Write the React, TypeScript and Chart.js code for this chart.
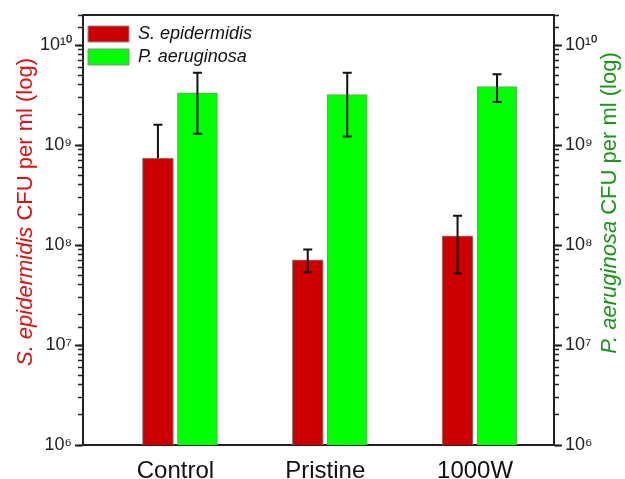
import React, { useEffect, useRef } from 'react';
import { Chart, registerables } from 'chart.js';

Chart.register(...registerables);

// ---- data ----
const categories = ['Control', 'Pristine', '1000W'];
const categoryPositions = [1, 2, 3];
const seriesNames = ['S. epidermidis', 'P. aeruginosa'];
const sEpidermidis = [7.4e8, 7.1e7, 1.24e8];
const sEpidermidisUpper = [1.6e9, 9.0e7, 1.96e8];
const sEpidermidisLower = [7.4e8, 5.35e7, 5.2e7];
const pAeruginosa = [3.34e9, 3.2e9, 3.84e9];
const pAeruginosaUpper = [5.3e9, 5.3e9, 5.1e9];
const pAeruginosaLower = [1.3e9, 1.22e9, 2.7e9];
const decadeTicks = [1e6, 1e7, 1e8, 1e9, 1e10];
const yMin = 1e6;
const yMax = 2e10;
const xMin = 0.383;
const xMax = 3.527;

const FONT = '"Liberation Sans", Arial, Helvetica, sans-serif';
const AXIS_COLOR = '#222';
const RED = '#CC0000';
const GREEN = '#00FF00';

const SUP = ['⁰', '¹', '²', '³', '⁴', '⁵', '⁶', '⁷', '⁸', '⁹'];
function powerLabel(v: number): string {
  const lg = Math.log10(v);
  const e = Math.round(lg);
  if (Math.abs(lg - e) > 1e-9) return '';
  return '10' + String(e).split('').map((d) => SUP[+d]).join('');
}

const errorSets = [
  { upper: sEpidermidisUpper, lower: sEpidermidisLower },
  { upper: pAeruginosaUpper, lower: pAeruginosaLower },
];

const errorBarPlugin = {
  id: 'errorBars',
  afterDatasetsDraw(chart: any) {
    const ctx = chart.ctx;
    ctx.save();
    ctx.strokeStyle = '#111';
    ctx.lineWidth = 2;
    errorSets.forEach((es, di) => {
      const meta = chart.getDatasetMeta(di);
      const yScale = chart.scales[meta.yAxisID];
      meta.data.forEach((bar: any, i: number) => {
        const x = bar.x;
        const yt = yScale.getPixelForValue(es.upper[i]);
        const yb = yScale.getPixelForValue(es.lower[i]);
        const cap = 4.5;
        ctx.beginPath();
        ctx.moveTo(x, yt);
        ctx.lineTo(x, yb);
        ctx.moveTo(x - cap, yt);
        ctx.lineTo(x + cap, yt);
        if (Math.abs(yb - bar.y) > 0.5) {
          ctx.moveTo(x - cap, yb);
          ctx.lineTo(x + cap, yb);
        }
        ctx.stroke();
      });
    });
    ctx.restore();
  },
};

function drawVerticalMixed(ctx: CanvasRenderingContext2D, x: number, yc: number, parts: { text: string; italic: boolean }[], color: string, size: number) {
  ctx.save();
  ctx.translate(x, yc);
  ctx.rotate(-Math.PI / 2);
  ctx.fillStyle = color;
  ctx.textBaseline = 'middle';
  ctx.textAlign = 'left';
  const fonts = parts.map((p) => `${p.italic ? 'italic ' : ''}${size}px ${FONT}`);
  let total = 0;
  const widths = parts.map((p, i) => {
    ctx.font = fonts[i];
    const w = ctx.measureText(p.text).width;
    total += w;
    return w;
  });
  let cx = -total / 2;
  parts.forEach((p, i) => {
    ctx.font = fonts[i];
    ctx.fillText(p.text, cx, 0);
    cx += widths[i];
  });
  ctx.restore();
}

const titlePlugin = {
  id: 'axisTitles',
  afterDraw(chart: any) {
    const ctx = chart.ctx;
    drawVerticalMixed(ctx, 26, 212, [
      { text: seriesNames[0], italic: true },
      { text: ' CFU per ml (log)', italic: false },
    ], '#DD1111', 22);
    drawVerticalMixed(ctx, 610, 203, [
      { text: seriesNames[1], italic: true },
      { text: ' CFU per ml (log)', italic: false },
    ], '#1A961A', 22);
  },
};

export default function App() {
  const canvasRef = useRef<HTMLCanvasElement | null>(null);

  useEffect(() => {
    if (!canvasRef.current) return;
    const chart = new Chart(canvasRef.current, {
      type: 'bar',
      data: {
        datasets: [
          {
            label: seriesNames[0],
            data: categoryPositions.map((x, i) => ({ x, y: sEpidermidis[i] })),
            backgroundColor: RED,
            borderColor: '#8a8a8a',
            borderWidth: 1,
            barThickness: 35,
            maxBarThickness: 31,
            xAxisID: 'x',
            yAxisID: 'y',
          },
          {
            label: seriesNames[1],
            data: categoryPositions.map((x, i) => ({ x, y: pAeruginosa[i] })),
            backgroundColor: GREEN,
            borderColor: '#8a8a8a',
            borderWidth: 1,
            barThickness: 44,
            maxBarThickness: 40,
            xAxisID: 'x',
            yAxisID: 'y2',
          },
        ],
      },
      options: {
        animation: false,
        responsive: true,
        maintainAspectRatio: false,
        layout: { padding: 0 },
        plugins: {
          legend: {
            position: 'chartArea',
            align: 'start',
            title: { display: true, text: ' ', font: { family: FONT, size: 10, lineHeight: 1 }, padding: { top: 10, bottom: 0 } },
            labels: {
              boxWidth: 41,
              boxHeight: 16,
              padding: 5,
              color: '#111',
              font: { family: FONT, size: 18, style: 'italic' },
            },
          },
          tooltip: { enabled: false },
          title: { display: false },
        },
        scales: {
          x: {
            type: 'linear',
            position: 'bottom',
            offset: false,
            min: xMin,
            max: xMax,
            afterBuildTicks: (s: any) => {
              s.ticks = categoryPositions.map((v) => ({ value: v }));
            },
            afterFit: (s: any) => {
              s.height = 34;
            },
            ticks: {
              autoSkip: false,
              maxRotation: 0,
              padding: 4,
              color: '#111',
              font: { family: FONT, size: 24 },
              callback: (v: any) => categories[categoryPositions.indexOf(Number(v))] ?? '',
            },
            grid: { display: false, offset: false },
            border: { display: true, color: AXIS_COLOR, width: 2 },
          },
          xTop: {
            type: 'linear',
            position: 'top',
            offset: false,
            min: xMin,
            max: xMax,
            afterFit: (s: any) => {
              s.height = 15;
            },
            ticks: { display: false },
            grid: { display: false, offset: false },
            border: { display: true, color: AXIS_COLOR, width: 2 },
          },
          y: {
            type: 'logarithmic',
            position: 'left',
            min: yMin,
            max: yMax,
            afterBuildTicks: (s: any) => {
              s.ticks = decadeTicks.map((v) => ({ value: v, major: true }));
            },
            afterFit: (s: any) => {
              s.width = 83;
            },
            ticks: {
              autoSkip: false,
              padding: 3,
              color: '#222',
              font: { family: FONT, size: 18 },
              callback: (v: any) => powerLabel(Number(v)),
            },
            grid: { drawOnChartArea: false, drawTicks: true, tickLength: 8, tickWidth: 2, tickColor: AXIS_COLOR },
            border: { display: true, color: AXIS_COLOR, width: 2 },
          },
          y2: {
            type: 'logarithmic',
            position: 'right',
            min: yMin,
            max: yMax,
            afterBuildTicks: (s: any) => {
              s.ticks = decadeTicks.map((v) => ({ value: v, major: true }));
            },
            afterFit: (s: any) => {
              s.width = 71;
            },
            ticks: {
              autoSkip: false,
              padding: 3,
              color: '#222',
              font: { family: FONT, size: 18 },
              callback: (v: any) => powerLabel(Number(v)),
            },
            grid: { drawOnChartArea: false, drawTicks: true, tickLength: 8, tickWidth: 2, tickColor: AXIS_COLOR },
            border: { display: true, color: AXIS_COLOR, width: 2 },
          },
          yMinorL: {
            type: 'logarithmic',
            position: { x: xMin },
            min: yMin,
            max: yMax,
            ticks: { display: false, autoSkip: false },
            grid: { drawOnChartArea: false, drawTicks: true, tickLength: 5, tickWidth: 1.5, tickColor: AXIS_COLOR },
            border: { display: false },
          },
          yMinorR: {
            type: 'logarithmic',
            position: { x: xMax },
            min: yMin,
            max: yMax,
            ticks: { display: false, autoSkip: false },
            grid: { drawOnChartArea: false, drawTicks: true, tickLength: -5, tickWidth: 1.5, tickColor: AXIS_COLOR },
            border: { display: false },
          },
        },
      } as any,
      plugins: [errorBarPlugin, titlePlugin],
    });
    return () => chart.destroy();
  }, []);

  return (
    <div style={{ position: 'fixed', left: 0, top: 0, width: 625, height: 479, background: '#fff' }}>
      <canvas ref={canvasRef} width={625} height={479} />
    </div>
  );
}
